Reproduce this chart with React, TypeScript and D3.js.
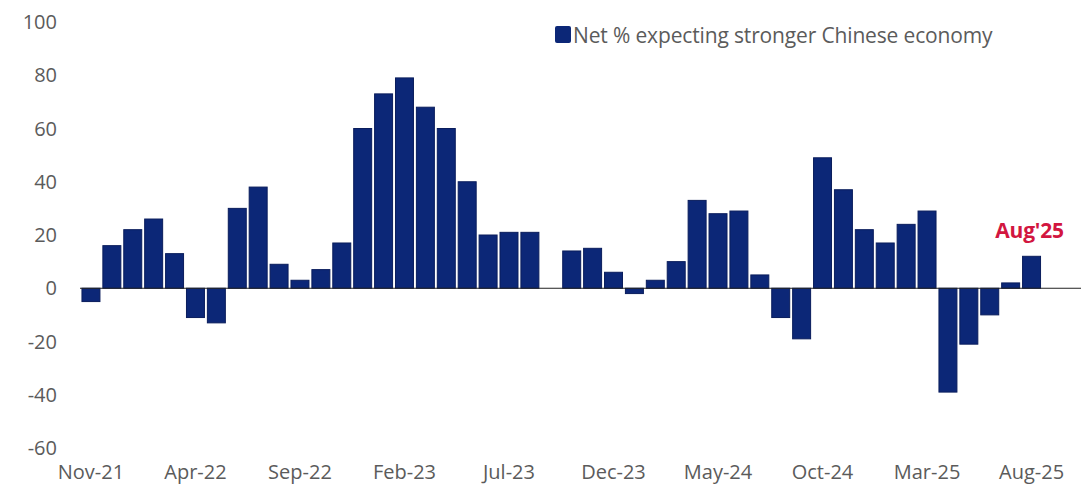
import React from "react";
import * as d3 from "d3";

const months: string[] = [
  "Nov-21", "Dec-21",
  "Jan-22", "Feb-22", "Mar-22", "Apr-22", "May-22", "Jun-22", "Jul-22", "Aug-22", "Sep-22", "Oct-22", "Nov-22", "Dec-22",
  "Jan-23", "Feb-23", "Mar-23", "Apr-23", "May-23", "Jun-23", "Jul-23", "Aug-23", "Sep-23", "Oct-23", "Nov-23", "Dec-23",
  "Jan-24", "Feb-24", "Mar-24", "Apr-24", "May-24", "Jun-24", "Jul-24", "Aug-24", "Sep-24", "Oct-24", "Nov-24", "Dec-24",
  "Jan-25", "Feb-25", "Mar-25", "Apr-25", "May-25", "Jun-25", "Jul-25", "Aug-25",
];

const netStronger: (number | null)[] = [
  -5, 16,
  22, 26, 13, -11, -13, 30, 38, 9, 3, 7, 17, 60,
  73, 79, 68, 60, 40, 20, 21, 21, null, 14, 15, 6,
  -2, 3, 10, 33, 28, 29, 5, -11, -19, 49, 37, 22,
  17, 24, 29, -39, -21, -10, 2, 12,
];

const yTicks: number[] = [-60, -40, -20, 0, 20, 40, 60, 80, 100];
const xTickLabels: string[] = ["Nov-21", "Apr-22", "Sep-22", "Feb-23", "Jul-23", "Dec-23", "May-24", "Oct-24", "Mar-25", "Aug-25"];
const seriesName = "Net % expecting stronger Chinese economy";
const annotation = { month: "Aug-25", text: "Aug'25" };

const W = 1081;
const H = 494;
const BAR = "#0c2777";
const TEXT = "#5b5b5b";
const RED = "#d21640";
const FONT = "'Open Sans', sans-serif";

export default function App() {
  const x = d3.scaleBand<string>().domain(months).range([80.5, 1042]).paddingInner(0.14).paddingOuter(0.07);
  const y = d3.scaleLinear().domain([-60, 100]).range([448, 22]);
  const data = months.map((m, i) => ({ m, v: netStronger[i] }));
  const bw = x.bandwidth();

  return (
    <svg width={W} height={H} style={{ position: "absolute", left: 0, top: 0, background: "#fff" }} fontFamily={FONT}>
      {yTicks.map((t) => (
        <text key={t} x={57} y={y(t)} dy="0.35em" textAnchor="end" fontSize={20} fill={TEXT}>
          {t}
        </text>
      ))}
      {xTickLabels.map((l) => (
        <text key={l} x={(x(l) ?? 0) + bw / 2} y={479} textAnchor="middle" fontSize={20} fill={TEXT}>
          {l}
        </text>
      ))}
      {data.filter((d) => d.v !== null).map((d) => {
        const v = d.v as number;
        return (
          <rect
            key={d.m}
            x={x(d.m)}
            y={Math.min(y(v), y(0))}
            width={bw}
            height={Math.abs(y(v) - y(0))}
            fill={BAR}
            stroke="#0a1d5c"
            strokeWidth={1}
          />
        );
      })}
      <line x1={80} x2={W} y1={y(0)} y2={y(0)} stroke="#222" strokeWidth={1} />
      <rect x={555} y={26} width={16} height={17} fill={BAR} rx={2} />
      <text x={573} y={43} fontSize={21} fill={TEXT} letterSpacing={-0.15}>
        {seriesName}
      </text>
      <text
        x={(x(annotation.month) ?? 0) + bw / 2 - 2}
        y={238}
        textAnchor="middle"
        fontSize={21}
        fontWeight="bold"
        fill={RED}
        letterSpacing={-0.2}
      >
        {annotation.text}
      </text>
    </svg>
  );
}
